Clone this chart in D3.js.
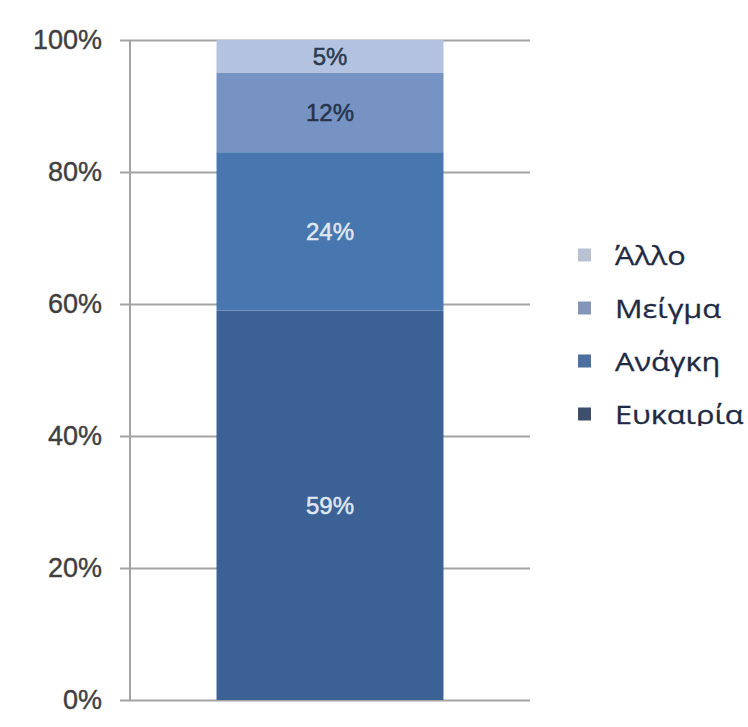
<!DOCTYPE html>
<html>
<head>
<meta charset="UTF-8">
<title>stacked share</title>
<script src="https://cdn.jsdelivr.net/npm/d3@7"></script>
<style>
  body { margin: 0; background: #fff; }
</style>
</head>
<body>
<div id="chart"></div>
<script>
// data, bottom to top
const categories = ["Ευκαιρία", "Ανάγκη", "Μείγμα", "Άλλο"];
const values = [0.59, 0.24, 0.12, 0.05];
const valueLabels = ["59%", "24%", "12%", "5%"];
const tickValues = [0, 0.2, 0.4, 0.6, 0.8, 1];

const barColors = ["#3c6295", "#4876af", "#7693c4", "#b3c3df"];
const legendColors = ["#3e4f6e", "#4b6fa0", "#8595b9", "#b9c1d2"];
const labelColors = ["#dfe7f2", "#dfe7f2", "#26344d", "#2c3a50"];

const width = 748, height = 727;

const svg = d3.select("#chart").append("svg")
  .attr("width", width)
  .attr("height", height);

const y = d3.scaleLinear().domain([0, 1]).range([700, 40]);
const x = d3.scaleBand().domain(["all"]).range([130, 530]).padding(0.276);

// gridlines + tick labels
const grid = svg.append("g")
  .attr("transform", "translate(120,0)")
  .call(d3.axisLeft(y)
    .tickValues(tickValues)
    .tickFormat(d3.format(".0%"))
    .tickSize(-410)
    .tickPadding(18));
grid.select(".domain").remove();
grid.selectAll(".tick line").attr("stroke", "#a3a3a3").attr("stroke-width", 2);
grid.selectAll(".tick text")
  .attr("fill", "#3f3f3f")
  .attr("font-family", "Liberation Sans, Arial, sans-serif")
  .attr("font-size", "27px")
  .attr("stroke", "#3f3f3f")
  .attr("stroke-width", 0.4);

// vertical axis line
svg.append("line")
  .attr("x1", 130).attr("x2", 130)
  .attr("y1", y(0)).attr("y2", y(1))
  .attr("stroke", "#a3a3a3")
  .attr("stroke-width", 2);

// stacked segments
let acc = 0;
const stacked = values.map((v, i) => {
  const s = { i: i, y0: acc, y1: acc + v };
  acc += v;
  return s;
});

svg.selectAll("rect.seg")
  .data(stacked)
  .join("rect")
  .attr("class", "seg")
  .attr("x", x("all"))
  .attr("width", x.bandwidth())
  .attr("y", d => y(d.y1))
  .attr("height", d => y(d.y0) - y(d.y1))
  .attr("fill", d => barColors[d.i]);

svg.selectAll("text.val")
  .data(stacked)
  .join("text")
  .attr("class", "val")
  .attr("x", x("all") + x.bandwidth() / 2)
  .attr("y", d => (y(d.y0) + y(d.y1)) / 2)
  .attr("dy", "0.36em")
  .attr("text-anchor", "middle")
  .attr("font-family", "Liberation Sans, Arial, sans-serif")
  .attr("font-size", "24px")
  .attr("fill", d => labelColors[d.i])
  .attr("stroke", d => labelColors[d.i])
  .attr("stroke-width", 0.5)
  .text(d => valueLabels[d.i]);

// legend (top item is the last category), clipped at the bottom like the source
svg.append("clipPath").attr("id", "legclip")
  .append("rect").attr("x", 560).attr("y", 220).attr("width", 188).attr("height", 206);

const legendOrder = d3.range(categories.length).reverse();
const leg = svg.append("g").attr("clip-path", "url(#legclip)");
const items = leg.selectAll("g")
  .data(legendOrder)
  .join("g")
  .attr("transform", (d, k) => "translate(578," + (255 + k * 53) + ")");

items.append("rect")
  .attr("x", 0).attr("y", -6.5)
  .attr("width", 13).attr("height", 13)
  .attr("fill", d => legendColors[d]);

// the source legend text is stretched sideways
items.append("text")
  .attr("transform", "translate(37,0) scale(1.18,1)")
  .attr("dy", "0.4em")
  .attr("font-family", "Open Sans, Noto Sans, sans-serif")
  .attr("font-size", "26px")
  .attr("fill", "#1e2a44")
  .attr("stroke", "#1e2a44")
  .attr("stroke-width", 0.3)
  .text(d => categories[d]);
</script>
</body>
</html>
